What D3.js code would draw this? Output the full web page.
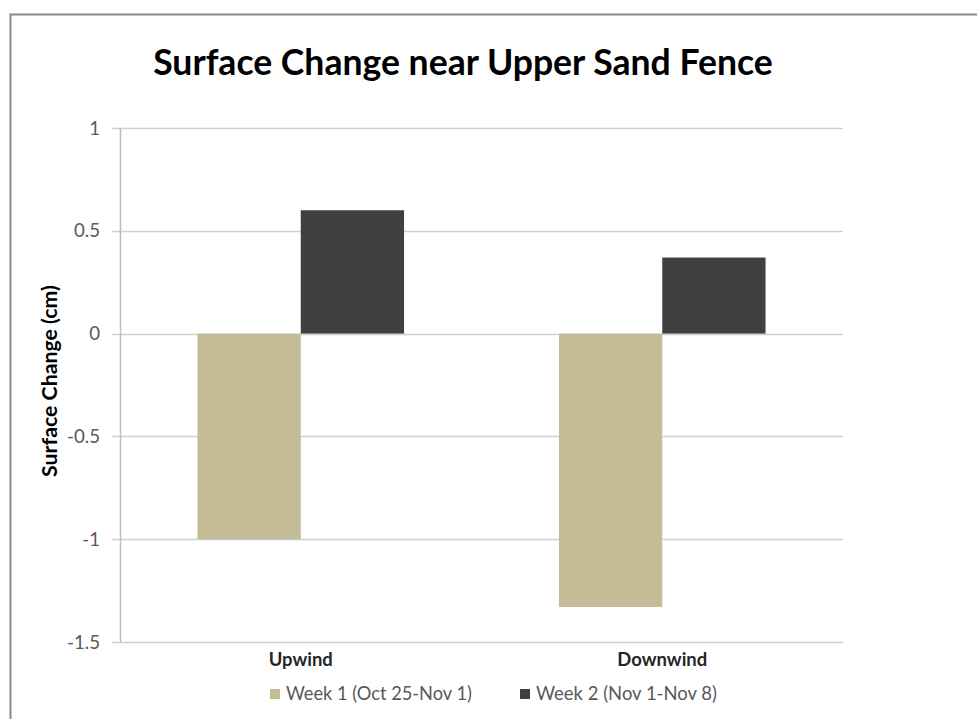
<!DOCTYPE html>
<html>
<head>
<meta charset="utf-8">
<script src="https://cdn.jsdelivr.net/npm/d3@7"></script>
<style>
  html, body { margin: 0; padding: 0; background: #fff; }
  svg { display: block; }
  text { font-family: Lato, "Open Sans", "Noto Sans", sans-serif; }
</style>
</head>
<body>
<svg id="chart" width="977" height="719"></svg>
<script>
// Surface change per site and week (cm)
const categories = ["Upwind", "Downwind"];
const seriesNames = ["Week 1 (Oct 25-Nov 1)", "Week 2 (Nov 1-Nov 8)"];
const week1 = [-1.0, -1.33];
const week2 = [0.6, 0.37];
const yTicks = [1, 0.5, 0, -0.5, -1, -1.5];
const yTickLabels = ["1", "0.5", "0", "-0.5", "-1", "-1.5"];
const colors = ["#c4bc96", "#404040"];

const svg = d3.select("#chart");

// scale a text element's font so its run spans the given width
function fitWidth(sel, width, base) {
  sel.attr("font-size", base);
  const w = sel.node().getComputedTextLength();
  const size = base * width / w;
  sel.attr("font-size", size);
  return size;
}

// chart area frame (left and top edges)
svg.append("path")
  .attr("d", "M10.5,719 L10.5,14.5 L977,14.5")
  .attr("fill", "none")
  .attr("stroke", "#888")
  .attr("stroke-width", 2);

const plot = { left: 120, right: 843, top: 128, bottom: 642 };

const y = d3.scaleLinear().domain([-1.5, 1]).range([plot.bottom, plot.top]);
const x0 = d3.scaleBand().domain(categories).range([plot.left, plot.right]).paddingInner(0).paddingOuter(0);
// gap width 150% of a bar: band split into 3.5 bar units, 2 bars in the middle
const x1 = d3.scaleBand().domain([0, 1]).range([0, x0.bandwidth()]).paddingInner(0).paddingOuter(0.75);

// gridlines
svg.append("g").selectAll("line").data(yTicks).join("line")
  .attr("x1", plot.left - 8).attr("x2", plot.right)
  .attr("y1", d => Math.round(y(d)) + 0.5).attr("y2", d => Math.round(y(d)) + 0.5)
  .attr("stroke", "#d0d0d0").attr("stroke-width", 1.5);

// vertical axis line
svg.append("line")
  .attr("x1", plot.left + 0.5).attr("x2", plot.left + 0.5)
  .attr("y1", plot.top).attr("y2", plot.bottom)
  .attr("stroke", "#bdbdbd").attr("stroke-width", 1.5);

// tick labels: size taken from the widest label
const probe = svg.append("text").text(yTickLabels[5]);
const tickSize = fitWidth(probe, 33, 15);
probe.remove();
svg.append("g").selectAll("text").data(yTicks).join("text")
  .attr("x", 100).attr("y", d => y(d))
  .attr("dy", "0.35em")
  .attr("text-anchor", "end")
  .attr("font-size", tickSize)
  .attr("fill", "#595959")
  .text((d, i) => yTickLabels[i]);

// bars
const series = [week1, week2];
const groups = svg.append("g").selectAll("g").data(categories).join("g")
  .attr("transform", d => `translate(${x0(d)},0)`);
groups.selectAll("rect")
  .data((c, i) => series.map((s, j) => ({ j, v: s[i] })))
  .join("rect")
  .attr("x", d => x1(d.j))
  .attr("width", x1.bandwidth())
  .attr("y", d => y(Math.max(0, d.v)))
  .attr("height", d => Math.abs(y(d.v) - y(0)))
  .attr("fill", d => colors[d.j]);

// category labels
const catWidths = [64, 90];
svg.append("g").selectAll("text").data(categories).join("text")
  .attr("x", d => x0(d) + x0.bandwidth() / 2)
  .attr("y", 666)
  .attr("text-anchor", "middle")
  .attr("font-weight", "bold")
  .attr("fill", "#262626")
  .text(d => d)
  .each(function(d, i) { fitWidth(d3.select(this), catWidths[i], 15); });

// y-axis title
const yTitle = svg.append("text")
  .attr("transform", "translate(57,381) rotate(-90)")
  .attr("text-anchor", "middle")
  .attr("font-weight", "bold")
  .attr("fill", "#000")
  .text("Surface Change (cm)");
fitWidth(yTitle, 192, 14);

// chart title
const title = svg.append("text")
  .attr("x", 463).attr("y", 75)
  .attr("text-anchor", "middle")
  .attr("font-weight", "bold")
  .attr("fill", "#000")
  .text("Surface Change near Upper Sand Fence");
fitWidth(title, 620, 30);

// legend
const legendX = [270, 520];
const legendW = [186, 181];
const legend = svg.append("g").selectAll("g").data(seriesNames).join("g")
  .attr("transform", (d, i) => `translate(${legendX[i]},694)`);
legend.append("rect")
  .attr("x", 0).attr("y", -5).attr("width", 10).attr("height", 10)
  .attr("fill", (d, i) => colors[i]);
legend.append("text")
  .attr("x", 16).attr("y", 0).attr("dy", "0.35em")
  .attr("fill", "#595959")
  .text(d => d)
  .each(function(d, i) { fitWidth(d3.select(this), legendW[i], 15); });
</script>
</body>
</html>
